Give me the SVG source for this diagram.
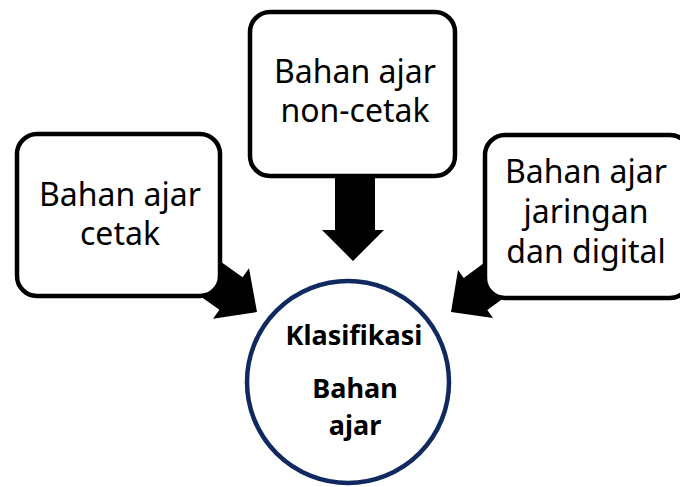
<svg xmlns="http://www.w3.org/2000/svg" width="680" height="487" viewBox="0 0 680 487">
<style>
.box{fill:#fff;stroke:#000;stroke-width:4.5}
.t{font-family:"Noto Sans","Open Sans",sans-serif;font-size:32px;fill:#000;text-anchor:middle}
.b{font-family:"Noto Sans","Open Sans",sans-serif;font-size:27px;font-weight:bold;fill:#000;text-anchor:middle}
.arr{fill:#000}
</style>
<rect width="680" height="487" fill="#fff"/>
<g id="connectors">
<polygon class="arr" points="257,312 213,318.8 219.4,309.8 170.4,275 193.6,242.4 242.6,277.2 249,268.2"/>
<polygon class="arr" points="451,312 458,270 463.7,277.9 512.1,242.4 535.7,274.6 487.3,310.1 493,318"/>
<polygon class="arr" points="335,170 375,170 375,230 384,230 353,261 322,230 335,230"/>
</g>
<g id="node-cetak">
<rect class="box" x="17" y="134" width="203" height="162" rx="20"/>
<text class="t" x="120" y="206">Bahan ajar</text>
<text class="t" x="120" y="245">cetak</text>
</g>
<g id="node-noncetak">
<rect class="box" x="250" y="12" width="205" height="164" rx="20"/>
<text class="t" x="355" y="83">Bahan ajar</text>
<text class="t" x="355" y="122">non-cetak</text>
</g>
<g id="node-digital">
<rect class="box" x="485" y="135" width="205" height="163" rx="20"/>
<text class="t" x="586" y="183">Bahan ajar</text>
<text class="t" x="586" y="223">jaringan</text>
<text class="t" x="586" y="263">dan digital</text>
</g>
<g id="node-klasifikasi">
<circle cx="348" cy="382" r="101" fill="#fff" stroke="#102A60" stroke-width="4.5"/>
<text class="b" x="354" y="345">Klasifikasi</text>
<text class="b" x="355" y="398">Bahan</text>
<text class="b" x="355" y="435">ajar</text>
</g>
</svg>
